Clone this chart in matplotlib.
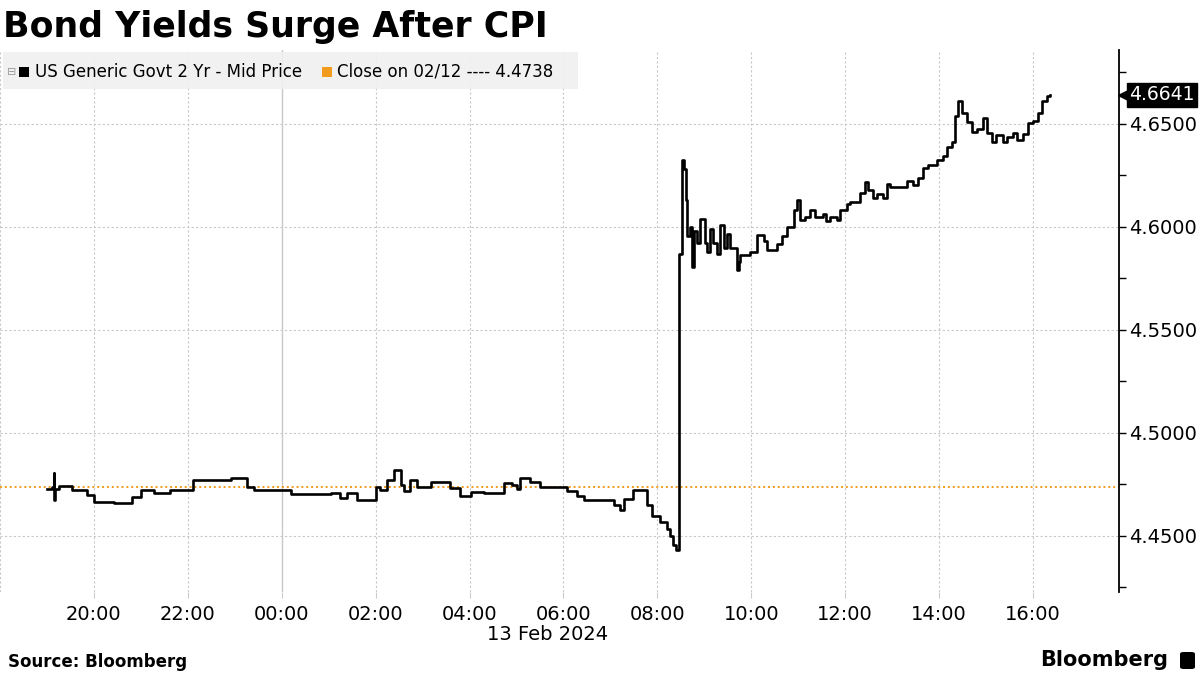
import matplotlib
matplotlib.use("Agg")
import matplotlib.pyplot as plt
import matplotlib.dates as mdates
from matplotlib.patches import Rectangle, FancyBboxPatch
from matplotlib.transforms import blended_transform_factory
import pandas as pd

# hours relative to 13 Feb 2024 00:00 (negative = 12 Feb evening)
hours = [-5.00, -4.90, -4.85, -4.84, -4.82, -4.74, -4.46, -4.14, -4.00, -3.57,
         -3.18, -3.00, -2.72, -2.37, -1.90, -1.09, -0.73, -0.59, 0.19, 1.04,
         1.25, 1.38, 1.61, 2.00, 2.10, 2.24, 2.39, 2.53, 2.60, 2.74,
         2.88, 3.17, 3.59, 3.80, 4.02, 4.30, 4.73, 4.90, 5.01, 5.08,
         5.29, 5.51, 6.07, 6.29, 6.43, 7.07, 7.21, 7.28, 7.49, 7.78,
         7.88, 8.06, 8.20, 8.26, 8.34, 8.40, 8.45, 8.52, 8.56, 8.61,
         8.64, 8.70, 8.74, 8.77, 8.85, 8.91, 9.02, 9.06, 9.12, 9.19,
         9.26, 9.34, 9.41, 9.48, 9.55, 9.69, 9.73, 9.76, 9.97, 10.12,
         10.26, 10.33, 10.54, 10.65, 10.76, 10.90, 10.97, 11.04, 11.15, 11.25,
         11.36, 11.53, 11.60, 11.68, 11.82, 11.89, 12.03, 12.10, 12.32, 12.42,
         12.49, 12.60, 12.67, 12.81, 12.88, 12.95, 13.31, 13.45, 13.56, 13.66,
         13.77, 13.95, 14.09, 14.16, 14.27, 14.34, 14.41, 14.48, 14.59, 14.69,
         14.80, 14.94, 15.01, 15.12, 15.22, 15.36, 15.44, 15.58, 15.65, 15.79,
         15.90, 16.00, 16.11, 16.18, 16.29, 16.36]

yields = [4.4730, 4.4740, 4.4806, 4.4675, 4.4730, 4.4743, 4.4723, 4.4699, 4.4667, 4.4660,
          4.4690, 4.4723, 4.4709, 4.4723, 4.4772, 4.4780, 4.4740, 4.4723, 4.4704, 4.4709,
          4.4685, 4.4709, 4.4675, 4.4740, 4.4725, 4.4772, 4.4820, 4.4745, 4.4720, 4.4770,
          4.4740, 4.4764, 4.4735, 4.4694, 4.4715, 4.4709, 4.4757, 4.4745, 4.4730, 4.4780,
          4.4760, 4.4740, 4.4720, 4.4695, 4.4675, 4.4650, 4.4626, 4.4680, 4.4723, 4.4650,
          4.4595, 4.4570, 4.4535, 4.4500, 4.4455, 4.4432, 4.5870, 4.6325, 4.6280, 4.6130,
          4.5956, 4.6000, 4.5806, 4.5980, 4.5920, 4.6040, 4.5920, 4.5880, 4.5990, 4.5920,
          4.5870, 4.6010, 4.5900, 4.5965, 4.5900, 4.5790, 4.5830, 4.5864, 4.5880, 4.5960,
          4.5930, 4.5890, 4.5915, 4.5955, 4.6000, 4.6080, 4.6130, 4.6035, 4.6050, 4.6080,
          4.6050, 4.6065, 4.6030, 4.6050, 4.6035, 4.6083, 4.6110, 4.6120, 4.6165, 4.6220,
          4.6180, 4.6140, 4.6160, 4.6140, 4.6210, 4.6196, 4.6225, 4.6205, 4.6240, 4.6286,
          4.6300, 4.6325, 4.6344, 4.6390, 4.6414, 4.6540, 4.6610, 4.6553, 4.6511, 4.6460,
          4.6475, 4.6530, 4.6455, 4.6414, 4.6445, 4.6414, 4.6439, 4.6455, 4.6420, 4.6450,
          4.6505, 4.6515, 4.6555, 4.6610, 4.6636, 4.6641]

prev_close = 4.4738
last_value = yields[-1]
yticks = [4.45, 4.50, 4.55, 4.60, 4.65]

day0 = pd.Timestamp("2024-02-13 00:00")
times = day0 + pd.to_timedelta(hours, unit="h")

fig = plt.figure(figsize=(12, 6.75), dpi=100)
ax = fig.add_axes([0, 1 - 592 / 675, 1119 / 1200, (592 - 50) / 675])

ax.axhline(prev_close, color="#f29b1d", lw=1.4, ls=(0, (1, 1.5)), zorder=2)
ax.step(times, yields, where="post", color="black", lw=1.9, zorder=3)

ax.set_xlim(day0 - pd.Timedelta(hours=6), day0 + pd.Timedelta(hours=17.83))
ax.set_ylim(4.4228, 4.6859)

# vertical grid lines, solid at midnight
for hh in range(-6, 18, 2):
    t = day0 + pd.Timedelta(hours=hh)
    if hh == 0:
        ax.axvline(t, color="#c8c8c8", lw=1.0, zorder=1)
    else:
        ax.axvline(t, color="#c8c8c8", lw=0.8, ls=(0, (2, 2)), zorder=1)
for v in yticks:
    ax.axhline(v, color="#c8c8c8", lw=0.8, ls=(0, (2, 2)), zorder=1)

xticks = [day0 + pd.Timedelta(hours=hh) for hh in range(-4, 18, 2)]
ax.set_xticks(xticks)
ax.xaxis.set_major_formatter(mdates.DateFormatter("%H:%M"))
ax.tick_params(axis="x", length=4, color="#cccccc", labelsize=14, pad=5)

ax.yaxis.tick_right()
ax.set_yticks(yticks)
ax.set_yticks([4.425, 4.475, 4.525, 4.575, 4.625, 4.675], minor=True)
ax.yaxis.set_major_formatter(matplotlib.ticker.FormatStrFormatter("%.4f"))
ax.tick_params(axis="y", which="both", length=5, width=1, color="black",
               labelsize=14, pad=2)

for side in ["left", "top", "bottom"]:
    ax.spines[side].set_visible(False)
ax.spines["right"].set_linewidth(1.3)

# last value tag
tr = blended_transform_factory(ax.transAxes, ax.transData)
ax.plot([1.0 + 7 / 1119], [last_value], marker="<", ms=12, color="black",
        transform=tr, clip_on=False, zorder=5)
ax.text(1.0 + 10 / 1119, last_value, f"{last_value:.4f}", transform=tr, color="white",
        fontsize=13.5, va="center", ha="left", zorder=6,
        bbox=dict(boxstyle="square,pad=0.12", fc="black", ec="black"))

# title and legend
fig.text(3 / 1200, 1 - 37 / 675, "Bond Yields Surge After CPI", fontsize=25,
         weight="bold", va="baseline", ha="left")
fig.patches.append(Rectangle((3 / 1200, 1 - 89 / 675), 575 / 1200, 37 / 675,
                             transform=fig.transFigure, fc="#f0f0f0", ec="none",
                             alpha=0.9, zorder=5))
fig.text(12 / 1200, 1 - 72 / 675, "⊟", fontsize=8, color="#999999",
         va="center", ha="center", zorder=6)
fig.patches.append(Rectangle((19 / 1200, 1 - 77 / 675), 10 / 1200, 10 / 675,
                             transform=fig.transFigure, fc="black", ec="none", zorder=6))
fig.text(35 / 1200, 1 - 72 / 675, "US Generic Govt 2 Yr - Mid Price", fontsize=12,
         va="center", ha="left", zorder=6)
fig.patches.append(Rectangle((322 / 1200, 1 - 77 / 675), 10 / 1200, 10 / 675,
                             transform=fig.transFigure, fc="#f29b1d", ec="none", zorder=6))
fig.text(337 / 1200, 1 - 72 / 675, "Close on 02/12 ---- 4.4738", fontsize=12,
         va="center", ha="left", zorder=6)

# footer
fig.text(548 / 1200, 1 - 634 / 675, "13 Feb 2024", fontsize=14, ha="center", va="center")
fig.text(8 / 1200, 1 - 662 / 675, "Source: Bloomberg", fontsize=12, weight="bold",
         va="center", ha="left")
fig.text(1168 / 1200, 1 - 660 / 675, "Bloomberg", fontsize=15, weight="bold",
         va="center", ha="right")
fig.patches.append(FancyBboxPatch((1180 / 1200, 1 - 669 / 675), 15 / 1200, 17 / 675,
                                  boxstyle="round,pad=0,rounding_size=0.003",
                                  transform=fig.transFigure, fc="black", ec="none"))

fig.savefig("out.png", dpi=100)
